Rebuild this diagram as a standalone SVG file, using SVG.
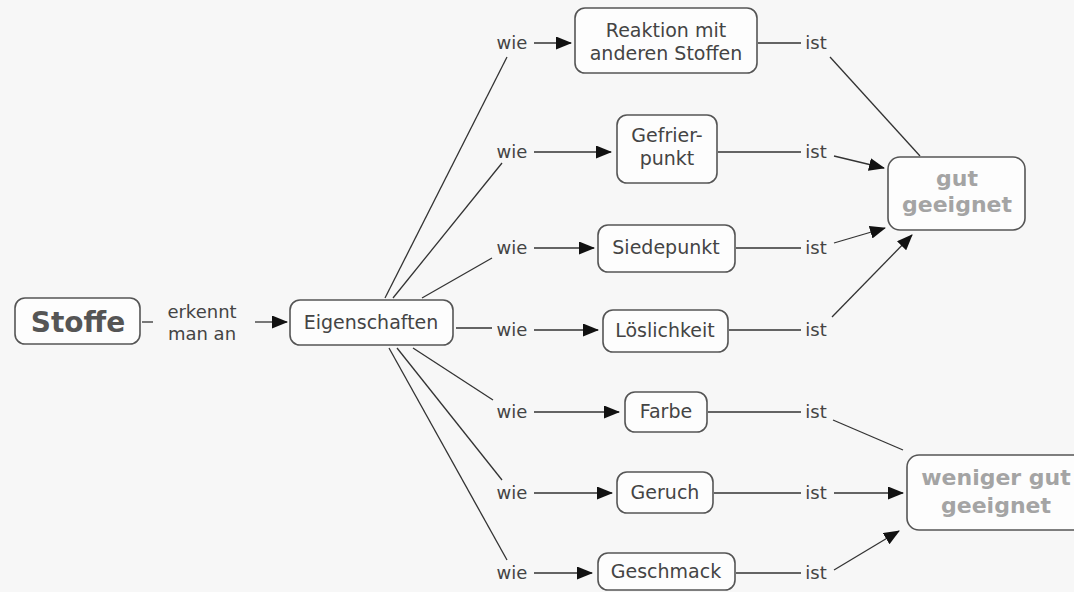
<svg xmlns="http://www.w3.org/2000/svg" width="1074" height="592" viewBox="0 0 1074 592">
<style>
.bg{fill:#f7f7f7}
.node rect{fill:#fdfdfd;stroke:#555;stroke-width:1.6}
.nt{font-family:"DejaVu Sans",Verdana,sans-serif;font-size:19px;fill:#444;text-anchor:middle}
.big{font-family:"DejaVu Sans",Verdana,sans-serif;font-size:28px;font-weight:bold;fill:#555;text-anchor:middle}
.gray{font-family:"DejaVu Sans",Verdana,sans-serif;font-size:22px;font-weight:bold;fill:#a4a4a4;text-anchor:middle}
.lbl{font-family:"DejaVu Sans",Verdana,sans-serif;font-size:18px;fill:#444;text-anchor:middle}
.c line{stroke:#333;stroke-width:1.3;fill:none}
.c .a{marker-end:url(#ah)}
</style>
<defs>
<marker id="ah" markerUnits="userSpaceOnUse" markerWidth="16" markerHeight="13" refX="15" refY="6.5" orient="auto">
<path d="M0,0 L16,6.5 L0,13 z" fill="#111"/>
</marker>
</defs>
<rect class="bg" x="0" y="0" width="1074" height="592"/>

<g id="connectors" class="c">
<line x1="142" y1="322" x2="153" y2="322"/>
<line class="a" x1="255" y1="322" x2="287" y2="322"/>
<line x1="385" y1="298" x2="507" y2="57"/>
<line x1="393" y1="298" x2="502" y2="163"/>
<line x1="422" y1="298" x2="492" y2="258"/>
<line x1="456" y1="328" x2="492" y2="328"/>
<line x1="413" y1="348" x2="493" y2="400"/>
<line x1="397" y1="348" x2="502" y2="480"/>
<line x1="389" y1="348" x2="507" y2="560"/>
<line class="a" x1="534" y1="43" x2="571" y2="43"/>
<line class="a" x1="534" y1="152" x2="611" y2="152"/>
<line class="a" x1="534" y1="248" x2="594" y2="248"/>
<line class="a" x1="534" y1="330" x2="598" y2="330"/>
<line class="a" x1="534" y1="412" x2="619" y2="412"/>
<line class="a" x1="534" y1="493" x2="612" y2="493"/>
<line class="a" x1="534" y1="573" x2="592" y2="573"/>
<line x1="758" y1="43" x2="801" y2="43"/>
<line x1="718" y1="152" x2="801" y2="152"/>
<line x1="736" y1="248" x2="801" y2="248"/>
<line x1="729" y1="330" x2="801" y2="330"/>
<line x1="708" y1="412" x2="801" y2="412"/>
<line x1="714" y1="493" x2="801" y2="493"/>
<line x1="736" y1="573" x2="801" y2="573"/>
<line x1="830" y1="57" x2="920" y2="156"/>
<line class="a" x1="834" y1="156" x2="884" y2="168"/>
<line class="a" x1="834" y1="243" x2="885" y2="228"/>
<line class="a" x1="832" y1="317" x2="912" y2="235"/>
<line x1="833" y1="420" x2="903" y2="450"/>
<line class="a" x1="834" y1="493" x2="903" y2="493"/>
<line class="a" x1="834" y1="570" x2="899" y2="531"/>
</g>

<g id="labels">
<text class="lbl" x="202" y="318">erkennt</text>
<text class="lbl" x="202" y="340">man an</text>
<text class="lbl" x="512" y="49">wie</text>
<text class="lbl" x="512" y="158">wie</text>
<text class="lbl" x="512" y="254">wie</text>
<text class="lbl" x="512" y="336">wie</text>
<text class="lbl" x="512" y="418">wie</text>
<text class="lbl" x="512" y="499">wie</text>
<text class="lbl" x="512" y="579">wie</text>
<text class="lbl" x="816" y="49">ist</text>
<text class="lbl" x="816" y="158">ist</text>
<text class="lbl" x="816" y="254">ist</text>
<text class="lbl" x="816" y="336">ist</text>
<text class="lbl" x="816" y="418">ist</text>
<text class="lbl" x="816" y="499">ist</text>
<text class="lbl" x="816" y="579">ist</text>
</g>

<g id="stoffe" class="node"><rect x="15" y="298" width="125" height="46" rx="10"/><text class="big" x="78" y="332">Stoffe</text></g>
<g id="eigenschaften" class="node"><rect x="290" y="300" width="163" height="45" rx="10"/><text class="nt" x="371" y="329">Eigenschaften</text></g>
<g id="reaktion" class="node"><rect x="575" y="8" width="182" height="65" rx="10"/><text class="nt" x="666" y="37">Reaktion mit</text><text class="nt" x="666" y="60">anderen Stoffen</text></g>
<g id="gefrierpunkt" class="node"><rect x="617" y="115" width="100" height="68" rx="10"/><text class="nt" x="667" y="142">Gefrier-</text><text class="nt" x="667" y="165">punkt</text></g>
<g id="siedepunkt" class="node"><rect x="598" y="225" width="137" height="47" rx="10"/><text class="nt" x="666" y="254">Siedepunkt</text></g>
<g id="loeslichkeit" class="node"><rect x="603" y="310" width="125" height="42" rx="10"/><text class="nt" x="665" y="337">Löslichkeit</text></g>
<g id="farbe" class="node"><rect x="625" y="392" width="82" height="40" rx="10"/><text class="nt" x="666" y="418">Farbe</text></g>
<g id="geruch" class="node"><rect x="617" y="472" width="96" height="41" rx="10"/><text class="nt" x="665" y="499">Geruch</text></g>
<g id="geschmack" class="node"><rect x="598" y="553" width="137" height="37" rx="10"/><text class="nt" x="666" y="578">Geschmack</text></g>
<g id="gut" class="node"><rect x="888" y="157" width="137" height="73" rx="12"/><text class="gray" x="957" y="186">gut</text><text class="gray" x="957" y="212">geeignet</text></g>
<g id="weniger" class="node"><rect x="907" y="455" width="180" height="75" rx="12"/><text class="gray" x="996" y="485">weniger gut</text><text class="gray" x="996" y="513">geeignet</text></g>
</svg>
